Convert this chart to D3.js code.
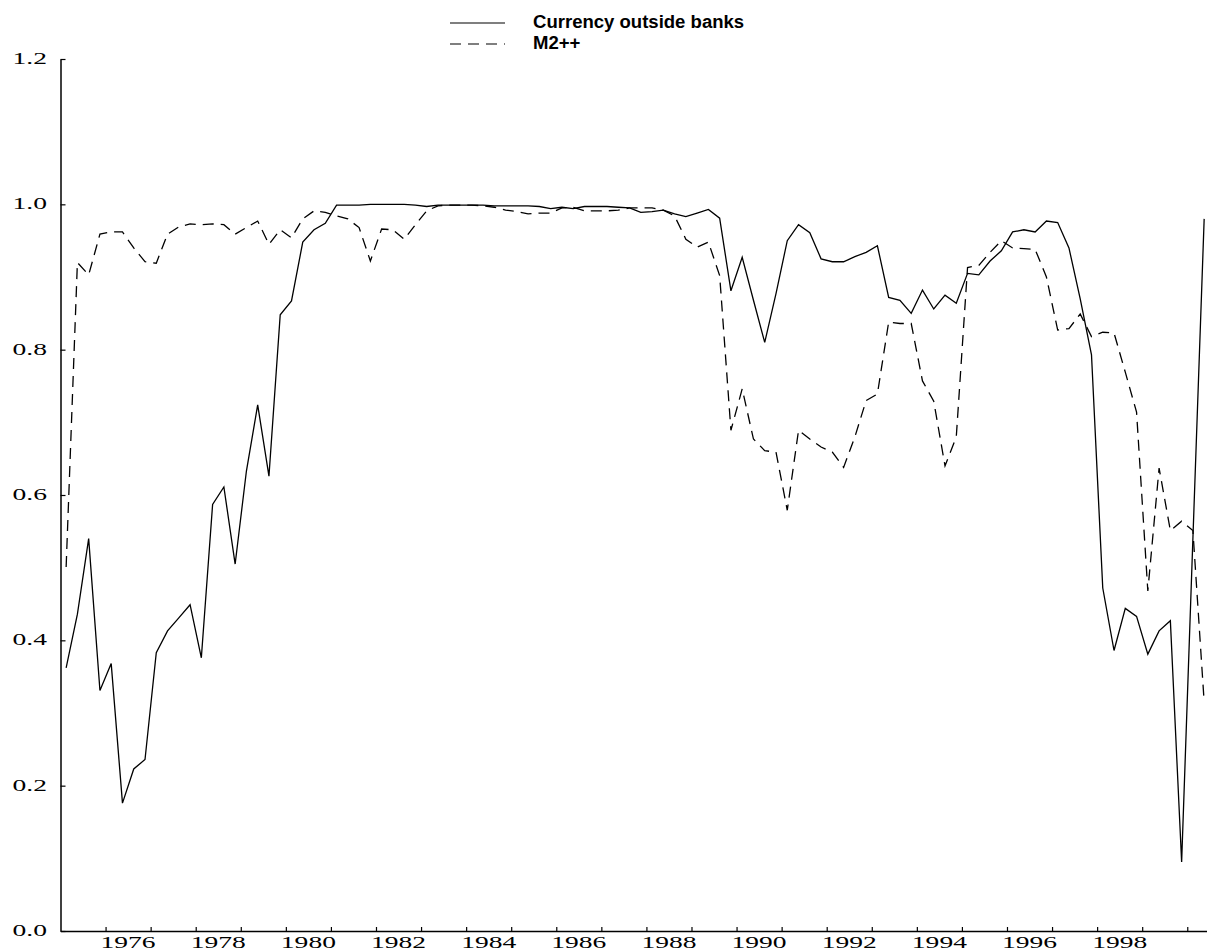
<!DOCTYPE html>
<html>
<head>
<meta charset="utf-8">
<script src="https://cdn.jsdelivr.net/npm/d3@7"></script>
<style>
  body { margin: 0; background: #fff; }
  svg { display: block; }
</style>
</head>
<body>
<svg id="chart" width="1207" height="951"></svg>
<script>
// Quarterly observations, 1975:1 to 2000:2
const firstYear = 1975;

const currencyOutsideBanks = [
  0.362, 0.436, 0.540, 0.331, 0.368, 0.176, 0.223, 0.236, 0.383, 0.413,
  0.431, 0.449, 0.376, 0.587, 0.611, 0.505, 0.633, 0.724, 0.626, 0.848,
  0.867, 0.948, 0.965, 0.974, 0.999, 0.999, 0.999, 1.000, 1.000, 1.000,
  1.000, 0.999, 0.997, 0.999, 0.999, 0.999, 0.999, 0.999, 0.998, 0.998,
  0.998, 0.998, 0.997, 0.994, 0.996, 0.994, 0.997, 0.997, 0.997, 0.996,
  0.995, 0.989, 0.990, 0.992, 0.987, 0.983, 0.988, 0.993, 0.981, 0.881,
  0.927, 0.868, 0.810, 0.877, 0.950, 0.972, 0.961, 0.925, 0.921, 0.921,
  0.928, 0.934, 0.943, 0.872, 0.868, 0.850, 0.882, 0.856, 0.875, 0.864,
  0.905, 0.903, 0.922, 0.936, 0.962, 0.965, 0.962, 0.977, 0.975, 0.940,
  0.870, 0.793, 0.472, 0.386, 0.444, 0.433, 0.381, 0.413, 0.427, 0.095,
  0.540, 0.980
];

const m2pp = [
  0.501, 0.920, 0.903, 0.959, 0.962, 0.962, 0.940, 0.921, 0.919, 0.959,
  0.969, 0.973, 0.972, 0.973, 0.972, 0.959, 0.968, 0.977, 0.945, 0.965,
  0.954, 0.980, 0.991, 0.989, 0.984, 0.980, 0.968, 0.922, 0.966, 0.965,
  0.952, 0.972, 0.991, 0.998, 0.999, 0.999, 0.999, 0.998, 0.996, 0.992,
  0.990, 0.987, 0.988, 0.988, 0.995, 0.996, 0.991, 0.991, 0.991, 0.992,
  0.995, 0.995, 0.995, 0.992, 0.984, 0.952, 0.941, 0.948, 0.902, 0.689,
  0.746, 0.677, 0.661, 0.659, 0.579, 0.689, 0.677, 0.666, 0.659, 0.638,
  0.680, 0.730, 0.739, 0.838, 0.836, 0.836, 0.757, 0.729, 0.640, 0.680,
  0.913, 0.916, 0.934, 0.950, 0.940, 0.939, 0.938, 0.900, 0.827, 0.829,
  0.849, 0.818, 0.824, 0.823, 0.769, 0.714, 0.468, 0.637, 0.551, 0.564,
  0.551, 0.315
];

const seriesNames = ["Currency outside banks", "M2++"];
const yearTicks = d3.range(1976, 2001);
const yearLabels = ["1976", "1978", "1980", "1982", "1984", "1986",
                    "1988", "1990", "1992", "1994", "1996", "1998"];
const valueTicks = [0.0, 0.2, 0.4, 0.6, 0.8, 1.0, 1.2];

// period labels "YYYY:Q" for each observation
const periods = currencyOutsideBanks.map((_, i) =>
  `${firstYear + Math.floor(i / 4)}:${(i % 4) + 1}`);

// each quarter is plotted at its midpoint
const periodTime = p => {
  const [yr, q] = p.split(":").map(Number);
  return yr + (q - 1) / 4 + 0.125;
};

const svg = d3.select("#chart");

const x = d3.scaleLinear().domain([1975, 2000.5]).range([60.5, 1209.8]);
const y = d3.scaleLinear().domain([0, 1.2]).range([931, 59]);

const serif = "'Liberation Serif', 'Times New Roman', serif";
const stretch = 1.62;
const dashPattern = "11,7";

// x axis: yearly inward ticks
const xAxis = svg.append("g")
  .attr("transform", `translate(0,${y(0)})`)
  .call(d3.axisBottom(x).tickValues(yearTicks).tickSize(-4)
        .tickSizeOuter(0).tickFormat(""));
xAxis.select(".domain").attr("stroke", "#000").attr("stroke-width", 1.5);
xAxis.selectAll(".tick line").attr("stroke", "#000").attr("stroke-width", 1.2);

// y axis: inward ticks
const yAxis = svg.append("g")
  .attr("transform", `translate(${x(1975)},0)`)
  .call(d3.axisLeft(y).tickValues(valueTicks).tickSize(-5)
        .tickSizeOuter(0).tickFormat(""));
yAxis.select(".domain").attr("stroke", "#000").attr("stroke-width", 1.5);
yAxis.selectAll(".tick line").attr("stroke", "#000").attr("stroke-width", 1.2);

// year labels centred within their year
svg.append("g").selectAll("text")
  .data(yearLabels)
  .join("text")
  .attr("transform", d => `translate(${x(+d + 0.5)},948) scale(${stretch},1)`)
  .attr("text-anchor", "middle")
  .attr("font-family", serif)
  .attr("font-size", 17)
  .attr("fill", "#000")
  .text(d => d);

// value labels
svg.append("g").selectAll("text")
  .data(valueTicks)
  .join("text")
  .attr("transform", d => `translate(47,${y(d) + 5}) scale(${stretch},1)`)
  .attr("text-anchor", "end")
  .attr("font-family", serif)
  .attr("font-size", 17)
  .attr("fill", "#000")
  .text(d => d3.format(".1f")(d));

// series lines
const line = values => d3.line()
  .x((d, i) => x(periodTime(periods[i])))
  .y(d => y(d))(values);

const styles = [
  { values: currencyOutsideBanks, dash: null },
  { values: m2pp, dash: dashPattern }
];

svg.append("g").selectAll("path")
  .data(styles)
  .join("path")
  .attr("d", d => line(d.values))
  .attr("fill", "none")
  .attr("stroke", "#000")
  .attr("stroke-width", 1.3)
  .attr("stroke-linejoin", "miter")
  .attr("stroke-dasharray", d => d.dash);

// legend
const legend = svg.append("g");
const legendRows = [
  { name: seriesNames[0], dash: null, yLine: 23, yText: 28 },
  { name: seriesNames[1], dash: dashPattern, yLine: 44, yText: 49 }
];
legendRows.forEach(r => {
  legend.append("line")
    .attr("x1", 450).attr("x2", 505)
    .attr("y1", r.yLine).attr("y2", r.yLine)
    .attr("stroke", "#000").attr("stroke-width", 1.2)
    .attr("stroke-dasharray", r.dash);
  legend.append("text")
    .attr("transform", `translate(533,${r.yText}) scale(1.03,1)`)
    .attr("font-family", "'Liberation Sans', Arial, sans-serif")
    .attr("font-weight", "bold")
    .attr("font-size", 18)
    .attr("fill", "#000")
    .text(r.name);
});
</script>
</body>
</html>
